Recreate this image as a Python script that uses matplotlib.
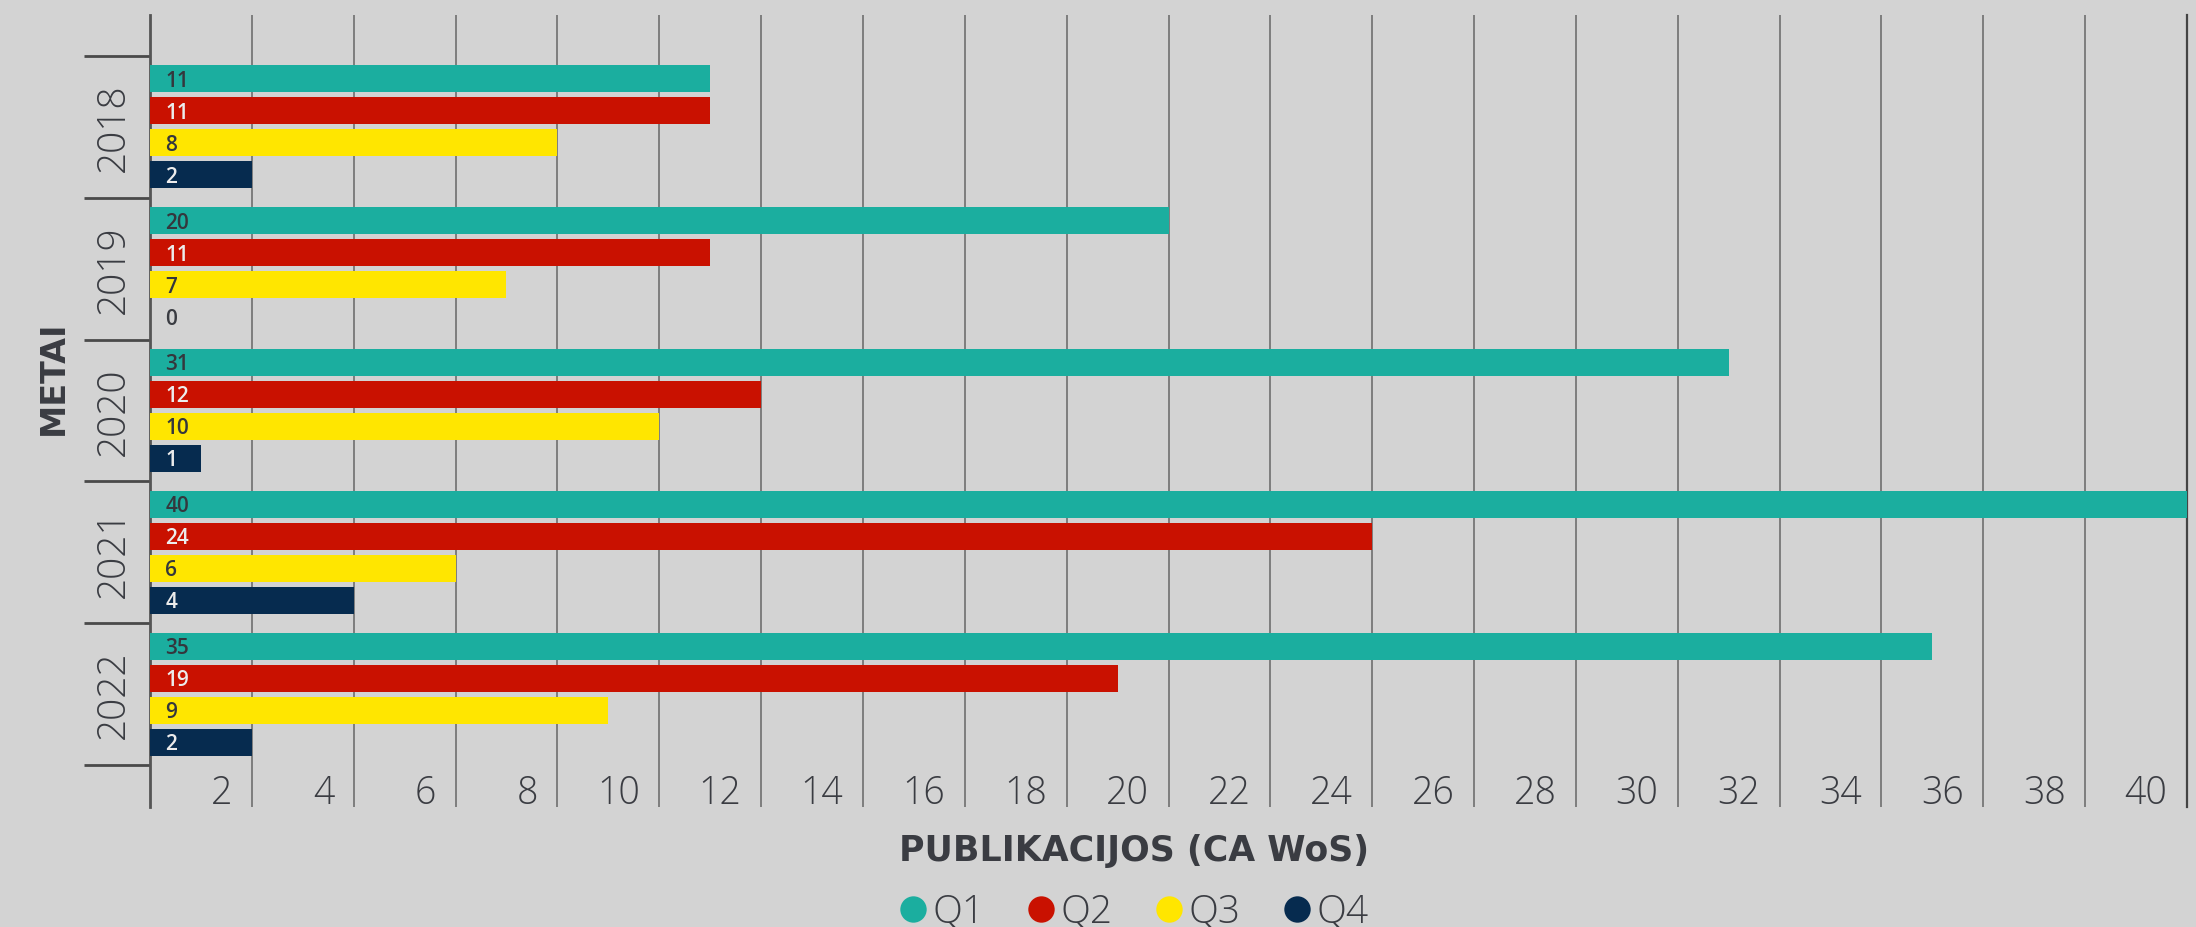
import matplotlib
matplotlib.use('Agg')
import matplotlib.pyplot as plt
from matplotlib.lines import Line2D
from matplotlib.transforms import blended_transform_factory

# Chart data
years = ['2018', '2019', '2020', '2021', '2022']
series = ['Q1', 'Q2', 'Q3', 'Q4']
q1 = [11, 20, 31, 40, 35]
q2 = [11, 11, 12, 24, 19]
q3 = [8, 7, 10, 6, 9]
q4 = [2, 0, 1, 4, 2]
x_ticks = list(range(2, 41, 2))

colors = ['#1bae9f', '#c91100', '#ffe600', '#062b4f']
label_colors = ['#34373d', '#ececec', '#34373d', '#ececec']
bg = '#d3d3d3'
txt = '#3a3c42'

LIGHT = dict(family=['Open Sans', 'DejaVu Sans'], weight='light')
SEMI = dict(family=['Open Sans', 'DejaVu Sans'], weight='semibold')
BOLD = dict(family=['DejaVu Sans'], weight='bold')

W, H = 2196, 928
fig = plt.figure(figsize=(W / 100, H / 100), dpi=100, facecolor=bg)
ax = fig.add_axes([150 / W, 1 - 808 / H, (2187 - 150) / W, (808 - 16) / H])
ax.set_facecolor(bg)

# bars, four per year, with value labels at the left end
pitch = 0.2257
height = 0.19
values = [q1, q2, q3, q4]
ypos = list(range(len(years)))
for k, vals in enumerate(values):
    off = (k - 1.5) * pitch
    ys = [y + off for y in ypos]
    ax.barh(ys, vals, height=height, color=colors[k], zorder=3)
    for y, v in zip(ys, vals):
        lc = label_colors[k] if v > 0 else txt
        ax.annotate(str(v), xy=(0, y), xytext=(11, -1), textcoords='offset points',
                    ha='left', va='center', fontsize=15, color=lc, zorder=4,
                    **SEMI)

ax.set_xlim(0, 40)
ax.set_ylim(len(years) - 0.5 + 0.296, -0.5 - 0.289)

# vertical grid
ax.set_xticks(x_ticks)
ax.tick_params(axis='x', length=0, labelbottom=False)
ax.grid(axis='x', color='#777777', lw=1.3, zorder=1)
ax.set_yticks([])
for s in ['top', 'bottom']:
    ax.spines[s].set_visible(False)
ax.spines['left'].set_color('#555555')
ax.spines['left'].set_linewidth(2)
ax.spines['right'].set_color('#444444')
ax.spines['right'].set_linewidth(1.6)

# x tick labels sit left of each gridline, inside the plot
bottom = ax.get_ylim()[0]
for v in x_ticks:
    ax.annotate(str(v), xy=(v, bottom), xytext=(-14, 3), textcoords='offset points',
                ha='right', va='baseline', fontsize=27, color=txt, **LIGHT)

# year labels and separators
tr = blended_transform_factory(ax.transAxes, ax.transData)
left_ext = (84 - 150) / (2187 - 150)
for i, yr in enumerate(years):
    ax.text((114 - 150) / (2187 - 150), i, yr, transform=tr, rotation=90,
            ha='center', va='center', fontsize=28, color=txt, **LIGHT)
for e in range(len(years) + 1):
    ax.plot([left_ext, 0], [e - 0.5, e - 0.5], transform=tr, color='#4a4a4a',
            lw=2, clip_on=False, solid_capstyle='butt')

fig.text(53 / W, 1 - 378 / H, 'METAI', rotation=90, ha='center', va='center',
         fontsize=24, color=txt, **BOLD)
fig.text(1134 / W, 1 - 851 / H, 'PUBLIKACIJOS (CA WoS)', ha='center', va='center',
         fontsize=25, color=txt, **BOLD)

handles = [Line2D([], [], ls='none', marker='o', markersize=19, color=c,
                  markeredgewidth=0) for c in colors]
fig.legend(handles, series, loc='center', bbox_to_anchor=(1134 / W, 15 / H),
           ncol=4, frameon=False, handlelength=0.7, handletextpad=0.15,
           columnspacing=1.1, labelcolor=txt,
           prop=dict(size=28, **LIGHT))

fig.savefig('out.png', dpi=100, facecolor=bg)
